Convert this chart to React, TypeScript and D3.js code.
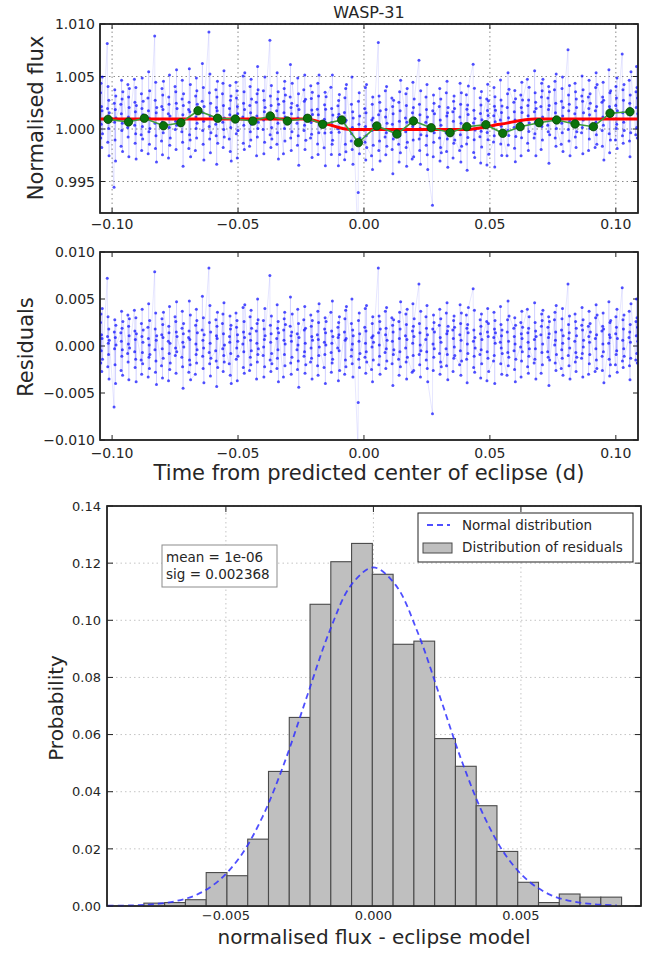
import React from 'react';
import * as d3 from 'd3';

// ---------- DATA ----------
const TITLE = 'WASP-31';

// light-curve sampling: points come in short strips (9 exposures each)
const STRIP_START = -0.1046;
const STRIP_STEP = 0.00269;
const IN_STRIP_STEP = 0.0001;
const PER_STRIP = 9;

// residuals (units of 1e-4), one row per strip
const residuals1e4 = [
  25, -18, 34, -5, 12, -27, 8, 40, -14,
  72, 10, -22, 31, 3, -9, 18, -35, 6,
  -65, 15, -3, 28, -20, 9, -40, 22, 1,
  14, -26, 5, 37, -11, 19, -4, -31, 26,
  -8, 33, -17, 2, 21, -36, 11, 29, -2,
  38, -6, 16, -23, 7, -14, 30, -38, 13,
  -15, 24, -30, 10, 39, -7, -19, 4, 17,
  20, -33, 8, 45, -12, 1, -24, 27, -9,
  79, -4, 18, -28, 35, -16, 6, -41, 11,
  -21, 12, 29, -3, -34, 23, 9, -13, 36,
  5, -37, 21, 14, -8, 42, -25, 3, -18,
  31, -10, -2, 26, -29, 15, 47, -6, 10,
  -12, 19, 37, -22, 4, -45, 13, 24, -1,
  9, -28, 16, 48, -15, 7, -20, 33, -36,
  -30, 22, 2, -9, 39, -18, 27, -4, 14,
  17, 53, -11, 6, -24, 30, -2, -39, 12,
  83, -7, 25, -19, 43, 3, -32, 15, -13,
  -5, 28, -16, 11, -43, 21, 8, 36, -23,
  24, -3, 34, -27, 13, -10, 46, -17, 1,
  -19, 10, 4, 32, -31, 18, -8, 22, -40,
  35, -14, 20, -2, 27, -37, 12, 5, -11,
  2, 41, -23, 15, -6, 26, -29, 9, 44,
  -26, 13, 31, -12, 6, -20, 38, -5, 19,
  16, -35, 3, 24, -17, 50, -9, 28, -3,
  -10, 27, -1, -33, 18, 7, -22, 40, 11,
  75, -15, 22, 4, -27, 13, 32, -8, -19,
  8, -24, 44, -13, 19, -4, 26, -38, 14,
  -33, 17, 6, 29, -9, 36, -21, 2, 23,
  21, 52, -18, 11, -30, 5, 15, -12, 34,
  -4, 13, -25, 39, 1, -16, 24, -44, 9,
  28, -11, 17, -6, 42, -29, 3, 19, -20,
  -17, 33, -2, 21, -13, 10, -35, 27, 6,
  12, -21, 37, -31, 7, 25, -10, 45, -1,
  -23, 4, 18, -9, 30, -40, 14, 1, 26,
  36, -7, -28, 16, 3, -18, 48, -14, 10,
  -2, 20, 9, -37, 25, 12, -5, 31, -26,
  15, -30, 29, 6, -15, 38, -22, 8, 42,
  -11, 24, -4, 50, -19, 2, 17, -33, 11,
  -108, -60, 27, -14, 5, 35, -23, 13, -8,
  20, -12, 40, 3, -29, 16, -6, 43, -17,
  -25, 9, -1, 24, -38, 31, 11, -15, 4,
  83, 14, -20, 32, 1, -11, 26, -30, 18,
  -7, 37, 12, -24, 19, -3, 41, -16, 6,
  30, -19, 5, 22, -42, 15, -9, 28, -4,
  -14, 26, -31, 8, 36, -6, 18, -22, 47,
  11, -2, 34, -17, 23, -35, 7, 39, -12,
  -28, 16, 3, 45, -10, 21, -26, 10, 29,
  66, -9, 24, -20, 14, 1, -33, 37, -5,
  7, 31, -15, 19, -6, 43, -24, 12, -38,
  -72, 18, 2, -26, 33, -12, 25, -3, 15,
  22, -8, 39, -30, 9, -17, 29, 4, -22,
  -3, 35, -21, 13, 46, -9, 16, -36, 21,
  17, -27, 8, 27, -13, 32, -1, 20, -10,
  -20, 12, 44, -5, 24, -31, 6, 35, -16,
  33, -14, 19, -39, 2, 23, -8, 14, 41,
  61, 5, -23, 17, -11, 38, -28, 9, -2,
  -9, 28, 13, -34, 21, -4, 34, -19, 7,
  26, -37, -6, 15, 40, -13, 10, 24, -27,
  -16, 9, 36, -10, 18, -40, 27, 3, 14,
  4, 42, -19, 23, -2, 11, -30, 17, -8,
  -31, 15, 28, -7, 48, -21, 5, -12, 32,
  19, -5, 10, -25, 30, 2, -38, 22, -14,
  -1, 25, -33, 13, -16, 37, 8, -6, 20,
  39, -22, 14, 4, -29, 19, -11, 31, -3,
  -18, 7, 46, -14, 25, -3, 16, -35, 10,
  12, -29, 21, 34, -7, 27, -20, 2, 38,
  -6, 20, -12, 9, 31, -42, 13, 26, -15,
  28, 1, 36, -18, 6, 15, -26, 43, -9,
  -24, 17, -4, 29, -13, 40, 3, -31, 11,
  66, -10, 23, 8, -21, 14, 32, -2, -35,
  5, 34, -17, 26, -7, -27, 19, 11, -12,
  -13, 22, 41, -8, 17, -33, 28, -1, 6,
  21, -30, 10, 37, -19, 4, -9, 24, 15,
  -27, 8, 30, -3, 44, -15, 12, -24, 33,
  16, -11, -26, 21, 2, 35, -6, 18, -39,
  3, 47, -14, 12, -32, 25, 9, -20, 27,
  -20, 13, 31, -9, 20, -5, 39, -28, 8,
  62, -16, 6, 28, -23, 18, -3, 33, -11,
  9, 37, -21, 15, -36, 23, 4, -13, 45,
  -15, 26, 11, 50, -8, 30, -18, 20, 5,
];

// eclipse model (red curve) knots
const modelT = [-0.1048, -0.0233, -0.0145, -0.0055, 0.0402, 0.054, 0.0679, 0.1088];
const modelF = [1.00095, 1.00095, 1.00045, 0.99995, 0.99995, 1.00045, 1.00095, 1.00095];

// binned flux (green points)
const binnedT = [-0.1016, -0.0935, -0.0872, -0.0796, -0.0727, -0.0659, -0.0581, -0.0511, -0.0441, -0.0372,
  -0.0304, -0.0224, -0.0164, -0.0088, -0.0022, 0.0051, 0.0131, 0.0196, 0.0267, 0.0342,
  0.0408, 0.0484, 0.0551, 0.062, 0.0695, 0.0765, 0.0838, 0.0911, 0.0977, 0.1056];
const binnedF = [1.00092, 1.00067, 1.00102, 1.00031, 1.0006, 1.00174, 1.00102, 1.00095, 1.00076, 1.00124,
  1.00076, 1.00102, 1.00045, 1.00086, 0.9987, 1.00029, 0.99952, 1.00076, 1.00012, 0.99965,
  1.00022, 1.00041, 0.99959, 1.00022, 1.0006, 1.00086, 1.00048, 1.00022, 1.0015, 1.00165];

// histogram of residuals
const histStart = -0.00778;
const histWidth = 0.000704;
const histProb = [0.0010, 0.0012, 0.0022, 0.0117, 0.0106, 0.0234, 0.0471, 0.0660, 0.1056, 0.1205,
  0.1269, 0.1161, 0.0916, 0.0927, 0.0586, 0.0489, 0.0351, 0.0191, 0.0083, 0.0012,
  0.0042, 0.0031, 0.0031];

// normal distribution curve
const normalX = [-0.009, -0.00825, -0.0075, -0.00675, -0.006, -0.00525, -0.0045, -0.00375, -0.003, -0.00225,
  -0.0015, -0.00075, 0, 0.00075, 0.0015, 0.00225, 0.003, 0.00375, 0.0045, 0.00525,
  0.006, 0.00675, 0.0075, 0.00825];
const normalY = [0.0001, 0.0002, 0.0006, 0.0016, 0.0039, 0.0088, 0.0175, 0.0314, 0.0506, 0.0734,
  0.0958, 0.1124, 0.1185, 0.1124, 0.0958, 0.0734, 0.0506, 0.0314, 0.0175, 0.0088,
  0.0039, 0.0016, 0.0006, 0.0002];

const MEAN_TEXT = 'mean = 1e-06';
const SIG_TEXT = 'sig = 0.002368';
const LEGEND = ['Normal distribution', 'Distribution of residuals'];

const timeTicks = [-0.1, -0.05, 0, 0.05, 0.1];
const fluxTicks = [0.995, 1.0, 1.005, 1.01];
const residTicks = [-0.01, -0.005, 0, 0.005, 0.01];
const probTicks = [0, 0.02, 0.04, 0.06, 0.08, 0.1, 0.12, 0.14];
const histTicks = [-0.005, 0, 0.005];

// ---------- DRAWING ----------
const FONT = 'DejaVu Sans, Bitstream Vera Sans, sans-serif';
const TXT = '#262626';

type Sc = d3.ScaleLinear<number, number>;

function axesFrame(key: string, xs: Sc, ys: Sc, xTicks: number[], yTicks: number[], o: {
  xFmt: (n: number) => string; yFmt: (n: number) => string; grid: boolean; gridColor: string;
  font: number; xLabDy: number; yLabDx: number; tick: number;
}) {
  const [x0, x1] = xs.range();
  const [yb, yt] = ys.range();
  const els: React.ReactNode[] = [];
  if (o.grid) {
    xTicks.forEach((t, i) => els.push(<line key={key + 'gx' + i} x1={xs(t)} x2={xs(t)} y1={yb} y2={yt} stroke={o.gridColor} strokeWidth={1} strokeDasharray="1.5,3" />));
    yTicks.forEach((t, i) => els.push(<line key={key + 'gy' + i} x1={x0} x2={x1} y1={ys(t)} y2={ys(t)} stroke={o.gridColor} strokeWidth={1} strokeDasharray="1.5,3" />));
  }
  xTicks.forEach((t, i) => {
    const X = xs(t);
    els.push(<line key={key + 'tb' + i} x1={X} x2={X} y1={yb} y2={yb - o.tick} stroke="#222" strokeWidth={1} />);
    els.push(<line key={key + 'tt' + i} x1={X} x2={X} y1={yt} y2={yt + o.tick} stroke="#222" strokeWidth={1} />);
    els.push(<text key={key + 'lx' + i} x={X} y={yb + o.xLabDy} textAnchor="middle" fontSize={o.font} fontFamily={FONT} fill={TXT}>{o.xFmt(t)}</text>);
  });
  yTicks.forEach((t, i) => {
    const Y = ys(t);
    els.push(<line key={key + 'tl' + i} x1={x0} x2={x0 + o.tick} y1={Y} y2={Y} stroke="#222" strokeWidth={1} />);
    els.push(<line key={key + 'tr' + i} x1={x1} x2={x1 - o.tick} y1={Y} y2={Y} stroke="#222" strokeWidth={1} />);
    els.push(<text key={key + 'ly' + i} x={x0 - o.yLabDx} y={Y} dy="0.36em" textAnchor="end" fontSize={o.font} fontFamily={FONT} fill={TXT}>{o.yFmt(t)}</text>);
  });
  els.push(<rect key={key + 'frame'} x={x0} y={yt} width={x1 - x0} height={yb - yt} fill="none" stroke="#222" strokeWidth={1.4} />);
  return els;
}

export default function App() {
  // scales
  const xTime = d3.scaleLinear().domain([-0.1048, 0.1088]).range([100, 638]);
  const yFlux = d3.scaleLinear().domain([0.992, 1.010]).range([213, 24]);
  const yRes = d3.scaleLinear().domain([-0.010, 0.010]).range([440, 252]);
  const xHist = d3.scaleLinear().domain([-0.00903, 0.00907]).range([107, 641]);
  const yProb = d3.scaleLinear().domain([0, 0.14]).range([906, 506]);
  const model = d3.scaleLinear().domain(modelT).range(modelF);

  const pts = residuals1e4.map((r, i) => {
    const k = Math.floor(i / PER_STRIP);
    const j = i % PER_STRIP;
    const t = STRIP_START + k * STRIP_STEP + j * IN_STRIP_STEP;
    const res = r * 1e-4;
    return { t, res, flux: model(t) + res };
  });

  const fluxLine = d3.line<{ t: number; flux: number }>().x(d => xTime(d.t)).y(d => yFlux(d.flux));
  const resLine = d3.line<{ t: number; res: number }>().x(d => xTime(d.t)).y(d => yRes(d.res));
  const modelLine = d3.line<number>().x(t => xTime(t)).y((t, i) => yFlux(modelF[i])).curve(d3.curveMonotoneX);
  const binLine = d3.line<number>().x(t => xTime(t)).y((t, i) => yFlux(binnedF[i]));
  const normLine = d3.line<number>().x(x => xHist(x)).y((x, i) => yProb(normalY[i])).curve(d3.curveCatmullRom);

  const f2 = d3.format('.2f');
  const f3 = d3.format('.3f');
  const bw = xHist(histWidth) - xHist(0);

  return (
    <svg width={654} height={953} style={{ position: 'absolute', left: 0, top: 0, background: '#fff' }} fontFamily={FONT}>
      <defs>
        <clipPath id="clipTop"><rect x={100} y={24} width={538} height={189} /></clipPath>
        <clipPath id="clipMid"><rect x={100} y={252} width={538} height={188} /></clipPath>
      </defs>
      <rect x={0} y={0} width={654} height={953} fill="#fff" />

      {/* ---------- top panel ---------- */}
      {axesFrame('top', xTime, yFlux, timeTicks, fluxTicks, { xFmt: f2, yFmt: f3, grid: true, gridColor: '#8a8a8a', font: 14, xLabDy: 16, yLabDx: 5, tick: 5 })}
      <g clipPath="url(#clipTop)">
        <path d={fluxLine(pts) || ''} fill="none" stroke="#0000ff" strokeOpacity={0.11} strokeWidth={0.9} />
        {pts.map((p, i) => <circle key={'fp' + i} cx={xTime(p.t)} cy={yFlux(p.flux)} r={1.5} fill="#0000ff" fillOpacity={0.68} />)}
        <path d={modelLine(modelT) || ''} fill="none" stroke="#ff0000" strokeWidth={3} />
        <path d={binLine(binnedT) || ''} fill="none" stroke="#3c9c3c" strokeWidth={1.6} />
        {binnedT.map((t, i) => <circle key={'bp' + i} cx={xTime(t)} cy={yFlux(binnedF[i])} r={4.2} fill="#0b730b" stroke="#054505" strokeWidth={0.8} />)}
      </g>
      <rect x={100} y={24} width={538} height={189} fill="none" stroke="#222" strokeWidth={1.4} />
      <text x={369} y={18} textAnchor="middle" fontSize={16} fill={TXT}>{TITLE}</text>
      <text transform="translate(43,118) rotate(-90)" textAnchor="middle" fontSize={21} fill={TXT}>Normalised flux</text>

      {/* ---------- residual panel ---------- */}
      {axesFrame('mid', xTime, yRes, timeTicks, residTicks, { xFmt: f2, yFmt: f3, grid: false, gridColor: '#8a8a8a', font: 14, xLabDy: 18, yLabDx: 5, tick: 5 })}
      <g clipPath="url(#clipMid)">
        <path d={resLine(pts) || ''} fill="none" stroke="#0000ff" strokeOpacity={0.11} strokeWidth={0.9} />
        {pts.map((p, i) => <circle key={'rp' + i} cx={xTime(p.t)} cy={yRes(p.res)} r={1.5} fill="#0000ff" fillOpacity={0.68} />)}
      </g>
      <rect x={100} y={252} width={538} height={188} fill="none" stroke="#222" strokeWidth={1.4} />
      <text transform="translate(33,347) rotate(-90)" textAnchor="middle" fontSize={21} fill={TXT}>Residuals</text>
      <text x={369} y={480} textAnchor="middle" fontSize={21} fill={TXT}>Time from predicted center of eclipse (d)</text>

      {/* ---------- histogram panel ---------- */}
      {axesFrame('hist', xHist, yProb, histTicks, probTicks, { xFmt: f3, yFmt: f2, grid: true, gridColor: '#c4c4c4', font: 13, xLabDy: 14, yLabDx: 6, tick: 6 })}
      {histProb.map((p, i) => {
        const x0 = xHist(histStart + i * histWidth);
        return <rect key={'hb' + i} x={x0} y={yProb(p)} width={bw} height={yProb(0) - yProb(p)} fill="#bfbfbf" stroke="#4a4a4a" strokeWidth={1.1} />;
      })}
      <path d={normLine(normalX) || ''} fill="none" stroke="#3030ff" strokeOpacity={0.85} strokeWidth={1.8} strokeDasharray="6,4" />
      <rect x={107} y={506} width={534} height={400} fill="none" stroke="#222" strokeWidth={1.4} />

      {/* stats box */}
      <rect x={162} y={545} width={115} height={42} fill="#fff" stroke="#8c8c8c" strokeWidth={1} />
      <text x={166} y={562} fontSize={13.5} fill={TXT}>{MEAN_TEXT}</text>
      <text x={166} y={579} fontSize={13.5} fill={TXT}>{SIG_TEXT}</text>

      {/* legend */}
      <rect x={418} y={513} width={215} height={49} fill="#fff" stroke="#222" strokeWidth={1} />
      <line x1={427} x2={450} y1={525} y2={525} stroke="#3030ff" strokeOpacity={0.85} strokeWidth={1.8} strokeDasharray="6,4" />
      <text x={462} y={530} fontSize={13.5} fill={TXT}>{LEGEND[0]}</text>
      <rect x={423} y={543} width={29} height={10} fill="#bfbfbf" stroke="#4a4a4a" strokeWidth={1} />
      <text x={462} y={552} fontSize={13.5} fill={TXT}>{LEGEND[1]}</text>

      <text transform="translate(63,708) rotate(-90)" textAnchor="middle" fontSize={20} fill={TXT}>Probability</text>
      <text x={374} y={944} textAnchor="middle" fontSize={20} fill={TXT}>normalised flux - eclipse model</text>
    </svg>
  );
}
